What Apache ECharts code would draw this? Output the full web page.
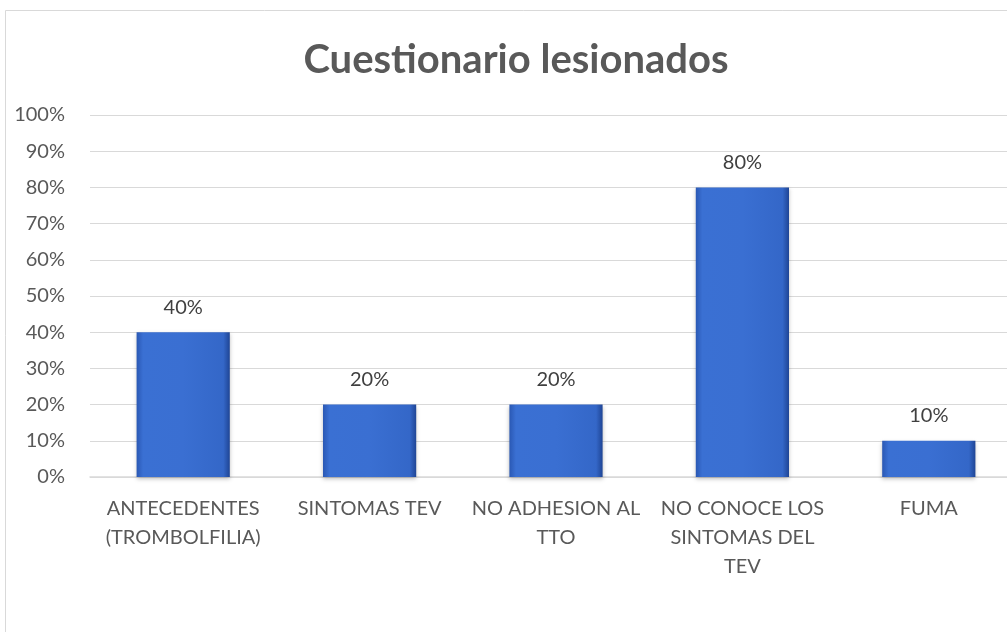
<!DOCTYPE html>
<html>
<head>
<meta charset="utf-8">
<script src="https://cdn.jsdelivr.net/npm/echarts@6/dist/echarts.min.js"></script>
<style>
html,body{margin:0;padding:0;background:#fff;overflow:hidden;width:1007px;height:632px;}
#chart{width:1040px;height:660px;}
</style>
</head>
<body>
<div id="chart"></div>
<script>
var categories = ['ANTECEDENTES\n(TROMBOLFILIA)', 'SINTOMAS TEV', 'NO ADHESION AL\nTTO', 'NO CONOCE LOS\nSINTOMAS DEL\nTEV', 'FUMA'];
var values = [40, 20, 20, 80, 10];
var titleText = 'Cuestionario lesionados';

var chart = echarts.init(document.getElementById('chart'));
var barColor = new echarts.graphic.LinearGradient(0, 0, 1, 0, [
  {offset: 0, color: '#2a58b4'},
  {offset: 0.07, color: '#3a70d3'},
  {offset: 0.5, color: '#3a6fd2'},
  {offset: 0.93, color: '#3467c8'},
  {offset: 1, color: '#1f4595'}
]);
chart.setOption({
  backgroundColor: '#fff',
  textStyle: {fontFamily: 'Lato'},
  graphic: [{
    type: 'rect',
    shape: {x: 5.5, y: 10.5, width: 1100, height: 700},
    style: {fill: 'none', stroke: '#d9d9d9', lineWidth: 1},
    silent: true, z: -10
  }, {
    type: 'text',
    x: 516, y: 60,
    style: {
      text: titleText,
      fontFamily: 'Lato', fontSize: 40, fontWeight: 'bold', fill: '#595959',
      textAlign: 'center', textVerticalAlign: 'middle'
    },
    silent: true
  }],
  grid: {left: 90, top: 115, width: 932, height: 362, containLabel: false},
  xAxis: {
    type: 'category',
    data: categories,
    axisLine: {show: true, lineStyle: {color: '#d9d9d9', width: 1.5}},
    axisTick: {show: false},
    axisLabel: {color: '#595959', fontSize: 20, lineHeight: 29, margin: 17, interval: 0}
  },
  yAxis: {
    type: 'value',
    min: 0, max: 100, interval: 10,
    axisLine: {show: false},
    axisTick: {show: false},
    splitLine: {lineStyle: {color: '#d9d9d9', width: 1}},
    axisLabel: {color: '#595959', fontSize: 20, margin: 25, formatter: '{value}%'}
  },
  series: [{
    type: 'bar',
    data: values,
    barWidth: '50%',
    itemStyle: {
      color: barColor,
      shadowColor: 'rgba(0,0,0,0.25)',
      shadowBlur: 4,
      shadowOffsetY: 2
    },
    label: {
      show: true,
      position: 'top',
      distance: 15,
      color: '#404040',
      fontSize: 20,
      fontFamily: 'Lato',
      formatter: '{c}%'
    }
  }]
});
</script>
</body>
</html>
